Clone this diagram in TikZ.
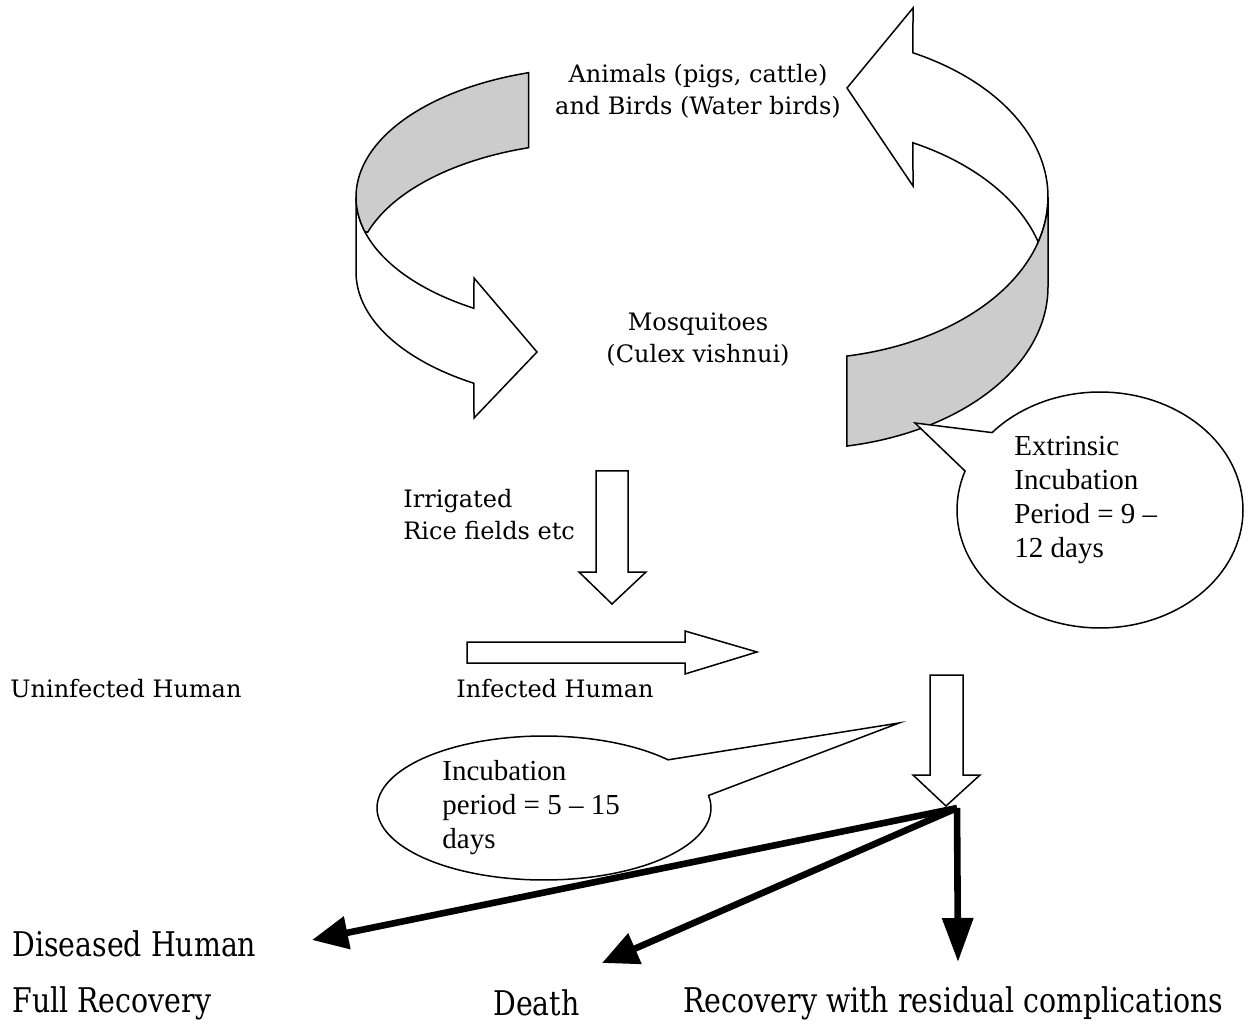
\documentclass[tikz,border=0pt]{standalone}
\usepackage{fontspec}
\usetikzlibrary{arrows.meta}
\newfontfamily\labfont{DejaVu Serif}
\newfontfamily\botfont[FakeStretch=0.835]{DejaVu Serif}
\newfontfamily\callfont{Liberation Serif}
\definecolor{bandgray}{RGB}{204,204,204}
\begin{document}
\begin{tikzpicture}[x=0.5pt,y=-0.5pt,
  blockshape/.style={draw=black, line width=0.75pt, line join=miter, fill=white},
  ribbonback/.style={draw=black, line width=0.75pt, line join=miter, fill=bandgray},
  lab/.style={font=\labfont\fontsize{12}{16}\selectfont, inner sep=0pt},
  bot/.style={font=\botfont\fontsize{17}{20}\selectfont, inner sep=0pt},
  call/.style={font=\callfont\fontsize{14.5}{17}\selectfont, inner sep=0pt, align=left},
  thickarrow/.style={line width=3.3pt, line join=miter, -{Triangle[length=18pt,width=16pt]}},
]
\useasboundingbox (0,0) rectangle (1248,1021);

% left ribbon arrow (front, white)
\draw[blockshape] plot[domain=180:121.1, samples=50, variable=\t] ({600+244*cos(\t)},{197+130*sin(\t)})
  -- (474,278) -- (537,352) -- (474,418)
  -- plot[domain=121.1:180, samples=50, variable=\t] ({600+244*cos(\t)},{272+130*sin(\t)}) -- cycle;
% left ribbon arrow (back, gray)
\draw[ribbonback] plot[domain=253:164.4, samples=60, variable=\t] ({600+244*cos(\t)},{197+130*sin(\t)})
  -- plot[domain=197.9:253, samples=40, variable=\t] ({600+244*cos(\t)},{272+130*sin(\t)}) -- cycle;

% right ribbon arrow (white part)
\draw[blockshape] plot[domain=-62.9:16.5, samples=60, variable=\t] ({800+248*cos(\t)},{197+162*sin(\t)})
  -- plot[domain=-15.8:-62.9, samples=50, variable=\t] ({800+248*cos(\t)},{287+162*sin(\t)})
  -- (913,186) -- (847,88) -- (913,8) -- cycle;
% right ribbon arrow (gray part)
\draw[ribbonback] plot[domain=0:79.1, samples=60, variable=\t] ({800+248*cos(\t)},{197+162*sin(\t)})
  -- plot[domain=79.1:0, samples=60, variable=\t] ({800+248*cos(\t)},{287+162*sin(\t)}) -- cycle;

% straight block arrows
\draw[blockshape] (596,471) -- (628,471) -- (628,572) -- (646,572) -- (612,604) -- (579,572) -- (596,572) -- cycle;
\draw[blockshape] (467,642) -- (685,642) -- (685,631) -- (757,652) -- (685,674) -- (685,663) -- (467,663) -- cycle;
\draw[blockshape] (930,675) -- (963,675) -- (963,775) -- (980,775) -- (946,806) -- (913,775) -- (930,775) -- cycle;

% callouts
\draw[blockshape] plot[domain=221:559.3, samples=120, variable=\t] ({1100+143*cos(\t)},{510+118*sin(\t)}) -- (915,423) -- cycle;
\draw[blockshape] plot[domain=-10:318, samples=120, variable=\t] ({544+167*cos(\t)},{808+72*sin(\t)}) -- (899,723) -- cycle;

% labels
\node[lab, align=center] (animals) at (698,91) {Animals (pigs, cattle)\\and Birds (Water birds)};
\node[lab, align=center] (mosq) at (698,340) {Mosquitoes\\(Culex vishnui)};
\node[lab, align=left, anchor=west] (irrig) at (403,515) {Irrigated\\Rice fields etc};
\node[lab, anchor=west] (uninf) at (10,689) {Uninfected Human};
\node[lab, anchor=west] (inf) at (456,689) {Infected Human};
\node[call, anchor=west] (ext) at (1014,500) {Extrinsic\\Incubation\\Period = 9 –\\12 days};
\node[call, anchor=west] (incub) at (442,808) {Incubation\\period = 5 – 15\\days};

\node[bot, anchor=west] (dis) at (12,944) {Diseased Human};
\node[bot, anchor=west] (full) at (12,1003) {Full Recovery};
\node[bot, anchor=west] (death) at (493,1003) {Death};
\node[bot, anchor=west] (resid) at (683,1003) {Recovery with residual complications};

% thick arrows
\coordinate (split) at (957,808);
\coordinate (tipdis) at (312,940);
\coordinate (tipdeath) at (602,963);
\coordinate (tipresid) at (958,962);
\draw[thickarrow] (split) -- (tipdis);
\draw[thickarrow] (split) -- (tipdeath);
\draw[thickarrow, -{Triangle[length=22pt,width=15pt]}] (split) -- (tipresid);
\end{tikzpicture}
\end{document}
